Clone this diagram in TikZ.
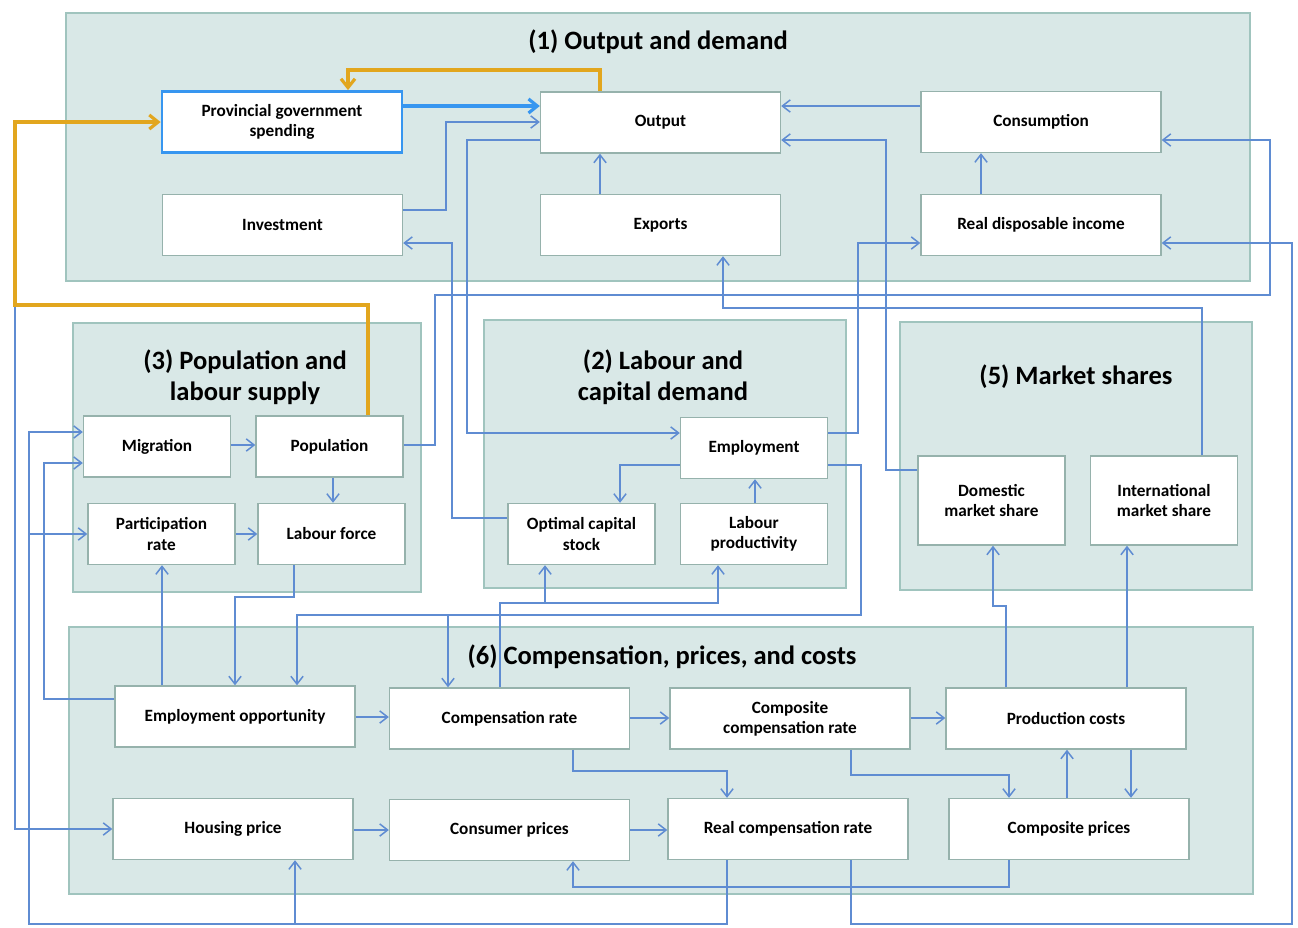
\documentclass[tikz,border=0pt]{standalone}
\usepackage{xcolor}
\usepackage{fontspec}
\setmainfont{Carlito}
\usepackage{tikz}
\usetikzlibrary{arrows.meta, calc}
\definecolor{panelfill}{RGB}{217, 232, 231}
\definecolor{paneldraw}{RGB}{160, 196, 190}
\definecolor{boxdraw}{RGB}{150, 178, 172}
\definecolor{linkblue}{RGB}{95, 140, 210}
\definecolor{spendblue}{RGB}{55, 150, 240}
\definecolor{feedorange}{RGB}{226, 166, 30}

\tikzset{
    panel/.style={fill=panelfill, draw=paneldraw, line width=1pt},
    paneltitle/.style={font=\bfseries\fontsize{15.1}{17.6}\selectfont, align=center},
    varbox/.style={fill=white, draw=boxdraw, line width=0.8pt, align=center,
        inner sep=2pt, font=\bfseries\fontsize{9.8}{11.4}\selectfont},
    widebox/.style={varbox, minimum width=4.8cm, minimum height=1.22cm},
    narrowbox/.style={varbox, minimum width=2.94cm, minimum height=1.22cm},
    sharebox/.style={varbox, minimum width=2.94cm, minimum height=1.78cm},
    link/.style={draw=linkblue, line width=0.85pt,
        -{Straight Barb[length=4.5pt,width=7pt]}},
    spendlink/.style={draw=spendblue, line width=1.8pt,
        -{Straight Barb[length=5pt,width=8pt]}},
    feedlink/.style={draw=feedorange, line width=1.8pt,
        -{Straight Barb[length=5pt,width=8pt]}}
}

\begin{document}
\begin{tikzpicture}[x=0.02cm, y=-0.02cm]
    \useasboundingbox (0,0) rectangle (1298,927);

    % panels
    \draw[panel] (66,13) rectangle (1250,281);
    \draw[panel] (73,323) rectangle (421,592);
    \draw[panel] (484,320) rectangle (846,588);
    \draw[panel] (900,322) rectangle (1252,590);
    \draw[panel] (69,627) rectangle (1253,894);

    \node[paneltitle] (t1) at (658,42) {(1) Output and demand};
    \node[paneltitle] (t3) at (245,377) {(3) Population and\\labour supply};
    \node[paneltitle] (t2) at (663,377) {(2) Labour and\\capital demand};
    \node[paneltitle] (t5) at (1076,377) {(5) Market shares};
    \node[paneltitle] (t6) at (662,657) {(6) Compensation, prices, and costs};

    % (1) output and demand
    \node[widebox, draw=spendblue, line width=1.6pt] (prov) at (282,122) {Provincial government\\spending};
    \node[widebox] (out) at (660.5,122.5) {Output};
    \node[widebox] (cons) at (1041,122) {Consumption};
    \node[widebox] (inv) at (282.5,225) {Investment};
    \node[widebox] (exp) at (660.5,225) {Exports};
    \node[widebox] (rdi) at (1041,225) {Real disposable income};

    % (3) population and labour supply
    \node[narrowbox] (mig) at (157,446.5) {Migration};
    \node[narrowbox] (pop) at (329.5,446.5) {Population};
    \node[narrowbox] (part) at (161.5,534) {Participation\\rate};
    \node[narrowbox] (lab) at (331.5,534) {Labour force};

    % (2) labour and capital demand
    \node[narrowbox] (emp) at (754,448) {Employment};
    \node[narrowbox] (ocs) at (581.5,534) {Optimal capital\\stock};
    \node[narrowbox] (lprod) at (754,534) {Labour\\productivity};

    % (5) market shares
    \node[sharebox] (dms) at (991.5,500.5) {Domestic\\market share};
    \node[sharebox] (ims) at (1164,500.5) {International\\market share};

    % (6) compensation, prices, and costs
    \node[widebox] (eo) at (235,716.5) {Employment opportunity};
    \node[widebox] (comp) at (509.5,718.5) {Compensation rate};
    \node[widebox] (ccr) at (790,718.5) {Composite\\compensation rate};
    \node[widebox] (pcost) at (1066,718.5) {Production costs};
    \node[widebox] (house) at (233,829) {Housing price};
    \node[widebox] (cpi) at (509.5,830) {Consumer prices};
    \node[widebox] (rcr) at (788,829) {Real compensation rate};
    \node[widebox] (cprice) at (1069,829) {Composite prices};

    % links inside (1)
    \draw[spendlink] (prov.east |- 0,106) -- (out.west |- 0,106);
    \draw[link] (inv.east |- 0,210) -| (446,122) -- (out.west |- 0,122);
    \draw[link] (cons.west |- 0,106) -- (out.east |- 0,106);
    \draw[link] (exp.north -| 600,0) -- (out.south -| 600,0);
    \draw[link] (rdi.north -| 981,0) -- (cons.south -| 981,0);

    % links between blocks
    \draw[link] (out.west |- 0,140) -| (467,433) -- (emp.west |- 0,433);
    \draw[link] (ocs.west |- 0,518) -| (452,243) -- (inv.east |- 0,243);
    \draw[link] (dms.west |- 0,470) -| (886,140) -- (out.east |- 0,140);
    \draw[link] (ims.north -| 1202,0) |- (723,308) -- (exp.south -| 723,0);
    \draw[link] (emp.east |- 0,433) -| (858,243) -- (rdi.west |- 0,243);
    \draw[link] (pop.east |- 0,445) -| (435,295) -| (1270,140) -- (cons.east |- 0,140);
    \draw[link] (rcr.south -| 851,0) |- (1292,924) |- (rdi.east |- 0,243);
    \draw[link] (rcr.south -| 727,0) |- (29,924) |- (mig.west |- 0,432);
    \draw[link] (29,534) -- (part.west |- 0,534);
    \draw[link] (295,924) -- (house.south -| 295,0);
    \draw[link] (pop.north -| 368,0) |- (15,305) |- (house.west);
    \draw[link] (eo.west |- 0,699) -| (44,463) -- (mig.west |- 0,463);
    \draw[link] (eo.north -| 162,0) -- (part.south -| 162,0);
    \draw[link] (lab.south -| 294,0) |- (235,597) -- (eo.north -| 235,0);
    \draw[link] (emp.east |- 0,465) -| (861,615) -| (eo.north -| 297,0);
    \draw[link] (448,615) -- (comp.north -| 448,0);
    \draw[link] (comp.north -| 500,0) |- (718,603) -- (lprod.south -| 718,0);
    \draw[link] (545,603) -- (ocs.south -| 545,0);
    \draw[link] (pcost.north -| 1006,0) |- (993,606) -- (dms.south -| 993,0);
    \draw[link] (pcost.north -| 1127,0) -- (ims.south -| 1127,0);

    % links inside (3) and (2)
    \draw[link] (mig.east |- 0,445) -- (pop.west |- 0,445);
    \draw[link] (pop.south -| 333,0) -- (lab.north -| 333,0);
    \draw[link] (part.east |- 0,534) -- (lab.west |- 0,534);
    \draw[link] (emp.west |- 0,465) -| (ocs.north -| 620,0);
    \draw[link] (lprod.north -| 755,0) -- (emp.south -| 755,0);

    % links inside (6)
    \draw[link] (eo.east |- 0,717) -- (comp.west |- 0,717);
    \draw[link] (comp.east |- 0,718) -- (ccr.west |- 0,718);
    \draw[link] (ccr.east |- 0,718) -- (pcost.west |- 0,718);
    \draw[link] (house.east |- 0,830) -- (cpi.west |- 0,830);
    \draw[link] (cpi.east |- 0,830) -- (rcr.west |- 0,830);
    \draw[link] (comp.south -| 573,0) |- (727,771) -- (rcr.north -| 727,0);
    \draw[link] (ccr.south -| 851,0) |- (1009,775) -- (cprice.north -| 1009,0);
    \draw[link] (cprice.north -| 1067,0) -- (pcost.south -| 1067,0);
    \draw[link] (pcost.south -| 1131,0) -- (cprice.north -| 1131,0);
    \draw[link] (cprice.south -| 1009,0) |- (573,887) -- (cpi.south -| 573,0);

    % feedback to government spending
    \draw[feedlink] (out.north -| 600,0) |- (348,70) -- (prov.north -| 348,0);
    \draw[feedlink] (pop.north -| 368,0) |- (15,305) |- (prov.west |- 0,122);
\end{tikzpicture}
\end{document}
